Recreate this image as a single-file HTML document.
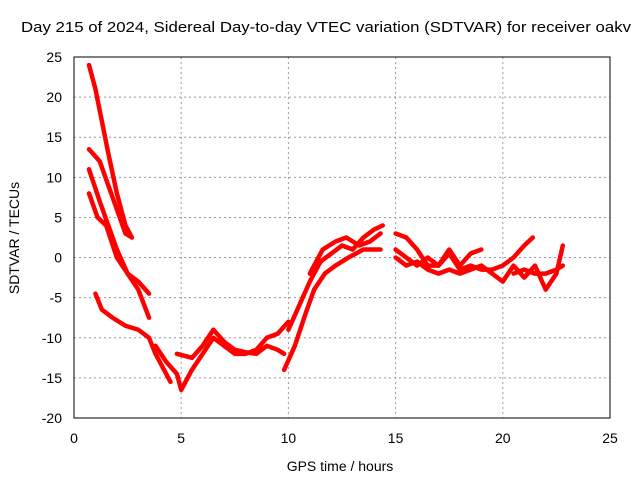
<!DOCTYPE html>
<html><head><meta charset="utf-8"><style>
body{margin:0;background:#fff;}
svg{display:block;font-family:"Liberation Sans",sans-serif;}
</style></head><body>
<svg id="chart" width="640" height="480">
<text x="326" y="32" font-size="15" text-anchor="middle" textLength="610" lengthAdjust="spacingAndGlyphs">Day 215 of 2024, Sidereal Day-to-day VTEC variation (SDTVAR) for receiver oakv</text>
<text x="340" y="471" font-size="14" text-anchor="middle">GPS time / hours</text>
<text x="19" y="238" font-size="14" text-anchor="middle" transform="rotate(-90 19 238)">SDTVAR / TECUs</text>
<g id="grid"></g>
<g id="series"></g>
<rect x="74" y="57" width="536" height="361" fill="none" stroke="#000"/>
</svg>
<script>
const xTicks=[0,5,10,15,20,25];
const yTicks=[25,20,15,10,5,0,-5,-10,-15,-20];
const trackA=[[0.7,24],[1.0,21],[1.3,17],[1.6,13],[2.0,8],[2.4,4],[2.7,2.5]];
const trackB=[[0.7,13.5],[1.2,12],[1.6,9],[2.0,6],[2.4,3],[2.7,2.5]];
const trackC=[[0.7,11],[1.2,7],[1.6,4],[2.0,1],[2.5,-2],[3.0,-4],[3.5,-7.5]];
const trackD=[[0.7,8],[1.1,5],[1.5,4],[2.0,0],[2.5,-2],[3.0,-3],[3.5,-4.5]];
const trackE=[[1.0,-4.5],[1.3,-6.5],[1.8,-7.5],[2.4,-8.5],[3.0,-9],[3.5,-10],[3.8,-12],[4.2,-14],[4.5,-15.5]];
const trackF=[[3.8,-11],[4.3,-13],[4.8,-14.5],[5.0,-16.5],[5.5,-14],[6.0,-12],[6.5,-10],[7.0,-11],[7.5,-12],[8.0,-12],[8.5,-11.5],[9.0,-10],[9.5,-9.5],[10.0,-8]];
const trackG=[[4.8,-12],[5.5,-12.5],[6.0,-11],[6.5,-9],[7.0,-10.5],[7.5,-11.5],[8.0,-11.8],[8.5,-12],[9.0,-11],[9.5,-11.5],[9.8,-12]];
const trackH=[[9.8,-14],[10.3,-11],[10.8,-7],[11.2,-4],[11.7,-2],[12.2,-1],[12.8,0],[13.5,1],[14.3,1]];
const trackI=[[10,-9],[10.5,-6],[11,-3],[11.5,-0.5],[12,0.5],[12.5,1.5],[13,1],[13.5,2.5],[14,3.5],[14.4,4]];
const trackJ=[[11,-2],[11.6,1],[12.2,2],[12.7,2.5],[13.3,1.5],[13.8,2],[14.3,3]];
const trackK=[[15,3],[15.5,2.5],[16,1],[16.5,-1],[17,-1],[17.5,1],[18,-1],[18.5,0.5],[19,1]];
const trackL=[[15,0],[15.5,-1],[16,-0.5],[16.5,-1.5],[17,-2],[17.5,-1.5],[18,-2],[18.5,-1.5],[19,-1],[19.5,-2],[20,-3],[20.5,-1],[21,-2.5],[21.5,-1],[22,-4],[22.5,-2],[22.8,1.5]];
const trackM=[[15,1],[15.5,0],[16,-1],[16.5,0],[17,-1],[17.5,0.5],[18,-1.5],[18.5,-1],[19,-1.5],[19.5,-1.5],[20,-1],[20.5,0],[21,1.5],[21.4,2.5]];
const trackN=[[20.5,-2],[21,-1.5],[21.5,-2],[22,-2],[22.5,-1.5],[22.8,-1]];
const tracks=[trackA,trackB,trackC,trackD,trackE,trackF,trackG,trackH,trackI,trackJ,trackK,trackL,trackM,trackN];
const NS="http://www.w3.org/2000/svg";
const X0=74,X1=610,Y0=418,Y1=57;
function xs(v){return X0+(v-0)/(25-0)*(X1-X0);}
function ys(v){return Y0-(v+20)/(45)*(Y0-Y1);}
const grid=document.getElementById('grid');
xTicks.forEach(t=>{
 const x=xs(t);
 if(t>0&&t<25){const l=document.createElementNS(NS,'line');
 
 
 l.setAttribute('x1',x);l.setAttribute('x2',x);l.setAttribute('y1',Y1);l.setAttribute('y2',Y0);
 l.setAttribute('stroke','#999');l.setAttribute('stroke-dasharray','2,3');grid.appendChild(l);}
 const tx=document.createElementNS(NS,'text');
 
 
 tx.setAttribute('x',x);tx.setAttribute('y',443);tx.setAttribute('font-size','14');tx.setAttribute('text-anchor','middle');
 tx.textContent=t;grid.appendChild(tx);
});
yTicks.forEach(t=>{
 const y=ys(t);
 if(t>-20&&t<25){const l=document.createElementNS(NS,'line');
 
 
 l.setAttribute('x1',X0);l.setAttribute('x2',X1);l.setAttribute('y1',y);l.setAttribute('y2',y);
 l.setAttribute('stroke','#999');l.setAttribute('stroke-dasharray','2,3');grid.appendChild(l);}
 const tx=document.createElementNS(NS,'text');
 
 
 tx.setAttribute('x',62);tx.setAttribute('y',y+5);tx.setAttribute('font-size','14');tx.setAttribute('text-anchor','end');
 tx.textContent=t;grid.appendChild(tx);
});
const sg=document.getElementById('series');
tracks.forEach(tr=>{
 const p=document.createElementNS(NS,'polyline');
 
 
 p.setAttribute('points',tr.map(d=>xs(d[0])+','+ys(d[1])).join(' '));
 p.setAttribute('fill','none');p.setAttribute('stroke','#f00');p.setAttribute('stroke-width','4.5');
 p.setAttribute('stroke-linejoin','round');p.setAttribute('stroke-linecap','round');
 sg.appendChild(p);
});
</script>
</body></html>
